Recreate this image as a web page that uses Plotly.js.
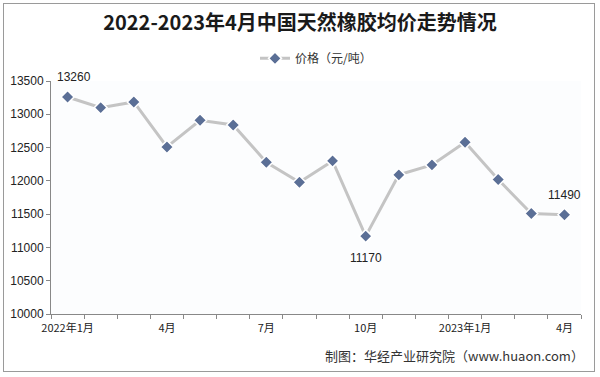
<!DOCTYPE html>
<html><head><meta charset="utf-8">
<script src="https://cdn.plot.ly/plotly-3.0.1.min.js"></script>
<style>
html,body{margin:0;padding:0;background:#fff;}
#wrap{position:relative;width:600px;height:377px;}
#chart{width:600px;height:377px;}
#frame{position:absolute;left:3px;top:3px;width:592px;height:369px;border:1px solid #9a9a9a;pointer-events:none;box-sizing:border-box;}
</style></head>
<body><div id="wrap"><div id="chart"></div><div id="frame"></div></div>
<script>
const months = ["2022年1月","2月","3月","4月","5月","6月","7月","8月","9月","10月","11月","12月","2023年1月","2月","3月","4月"];
const prices = [13260,13100,13185,12510,12910,12840,12280,11980,12300,11170,12090,12240,12580,12020,11510,11490];
const tickIdx = [0,3,6,9,12,15];
const tickLabels = ["2022年1月","4月","7月","10月","2023年1月","4月"];
const labelIdx = [0,9,15];
const seriesName = "价格（元/吨）";
const titleText = "2022-2023年4月中国天然橡胶均价走势情况";
const sourceText = "制图：华经产业研究院（www.huaon.com）";

const xs = months.map((m,i)=>i);
const font = "Liberation Sans, Arial, sans-serif";
const cjk = "Noto Sans CJK SC, sans-serif";

const trace = {
  x: xs, y: prices, type: 'scatter', mode: 'lines+markers', name: seriesName,
  line: {color: '#c4c4c4', width: 3},
  marker: {symbol: 'diamond', size: 10, color: '#5b6f96', line: {color: '#ffffff', width: 1.5}},
  hoverinfo: 'skip'
};
const ann = labelIdx.map(i => {
  const above = i !== 9;
  return {x: i, y: prices[i], xref: 'x', yref: 'y', text: String(prices[i]), showarrow: false,
    font: {family: font, size: 12, color: '#222'},
    yshift: above ? 20 : -22, xshift: i === 0 ? 6 : 0};
});
ann.push({xref:'paper', yref:'paper', x:1.01, y:-0.18, xanchor:'right', yanchor:'middle', text: sourceText,
  showarrow:false, font:{family:cjk, size:13, color:'#333'}});

const layout = {
  width: 600, height: 377,
  margin: {l: 51, r: 19, t: 81, b: 63},
  paper_bgcolor: '#ffffff', plot_bgcolor: '#fcfdfe',
  title: {text: titleText, x: 0.5, xanchor: 'center', y: 0.94, yanchor: 'middle',
    font: {family: cjk, size: 20, color: '#1a1a1a', weight: 700}},
  showlegend: true,
  legend: {orientation: 'h', x: 0.5, xanchor: 'center', y: 1.035, yanchor: 'bottom',
    font: {family: cjk, size: 12, color: '#333'}, bgcolor: 'rgba(0,0,0,0)', itemwidth: 30},
  xaxis: {range: [-0.5, 15.5], tickmode: 'linear', tick0: -0.5, dtick: 1, ticks: 'outside', ticklen: 4,
    tickcolor: '#888', showticklabels: false, showgrid: false, zeroline: false,
    showline: true, linecolor: '#888', linewidth: 1, fixedrange: true},
  xaxis2: {range: [-0.5, 15.5], overlaying: 'x', anchor: 'y', side: 'bottom', tickmode: 'array',
    tickvals: tickIdx, ticktext: tickLabels, ticks: '', ticklabelstandoff: 6, showgrid: false, zeroline: false, showline: false,
    tickfont: {family: cjk, size: 11, color: '#222'}, fixedrange: true},
  yaxis: {range: [10000, 13500], tickmode: 'linear', tick0: 10000, dtick: 500, tickformat: 'd', ticks: 'outside', ticklen: 4,
    tickcolor: '#888', showgrid: false, zeroline: false, showline: true, linecolor: '#888', linewidth: 1,
    tickfont: {family: font, size: 12, color: '#222'}, fixedrange: true},
  annotations: ann
};
const dummy = {x: [null], y: [null], xaxis: 'x2', yaxis: 'y', showlegend: false, type: 'scatter', mode: 'markers', hoverinfo: 'skip'};
Plotly.newPlot('chart', [trace, dummy], layout, {staticPlot: true, displayModeBar: false});
</script></body></html>
